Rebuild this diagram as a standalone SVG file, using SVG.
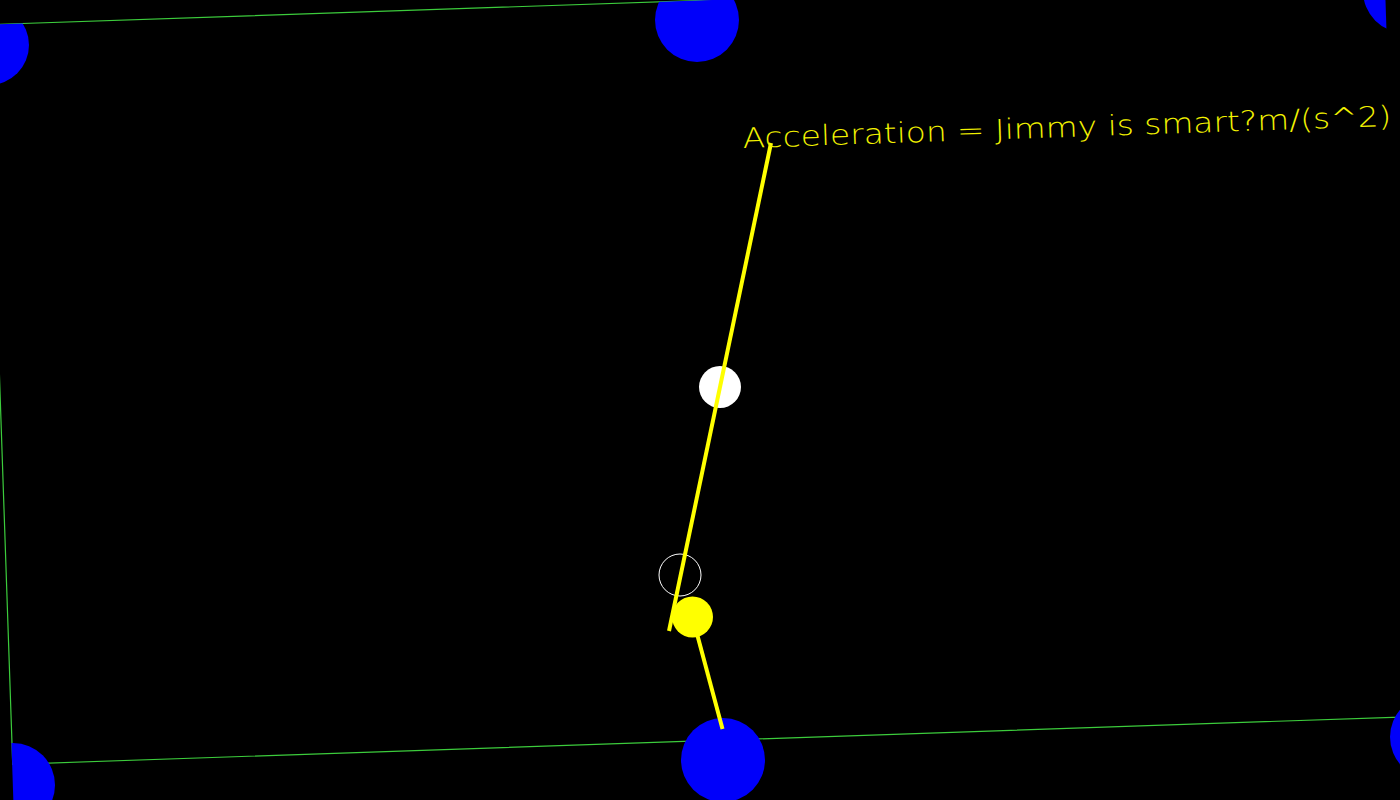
<svg xmlns="http://www.w3.org/2000/svg" width="1400" height="800" viewBox="0 0 1400 800">
<style>
.frame{fill:none;stroke:#3ccc3c;stroke-width:1.2}
.ball{fill:#0000fa}
.rod{stroke:#ffff00;stroke-width:4;stroke-linecap:butt;fill:none}
.label{font-family:"DejaVu Sans","Liberation Sans",sans-serif;font-weight:200;font-size:28px;fill:#f2f200}
</style>
<defs>
<clipPath id="area">
<polygon points="-12.5,24.7 1384.7,-22.9 1415,880 16,880"/>
</clipPath>
</defs>
<rect x="0" y="0" width="1400" height="800" fill="#000000"/>
<g id="frame">
<polygon class="frame" points="-12.5,24.7 1430,-24.4 1455,715.2 12.7,764.3"/>
</g>
<g id="anchors" clip-path="url(#area)">
<circle id="anchor-tl" class="ball" cx="-11" cy="45" r="40"/>
<circle id="anchor-tm" class="ball" cx="697" cy="20" r="42"/>
<circle id="anchor-tr" class="ball" cx="1405" cy="-9" r="42"/>
<circle id="anchor-bl" class="ball" cx="13" cy="785" r="42"/>
<circle id="anchor-bm" class="ball" cx="723" cy="760" r="42"/>
<circle id="anchor-br" class="ball" cx="1432" cy="737" r="42"/>
</g>
<g id="midpoint">
<circle cx="720" cy="387" r="21" fill="#ffffff"/>
</g>
<g id="ghost">
<circle cx="680" cy="575" r="21" fill="none" stroke="#ffffff" stroke-width="1"/>
</g>
<g id="connectors">
<line class="rod" x1="692.5" y1="617" x2="722.5" y2="729"/>
<line class="rod" x1="771" y1="143" x2="669" y2="631"/>
</g>
<g id="mass">
<circle cx="692.5" cy="617" r="20.5" fill="#ffff00"/>
</g>
<g id="readout">
<text class="label" x="743" y="148" transform="rotate(-1.95 743 148)" textLength="649" lengthAdjust="spacingAndGlyphs">Acceleration = Jimmy is smart?m/(s^2)</text>
</g>
</svg>
